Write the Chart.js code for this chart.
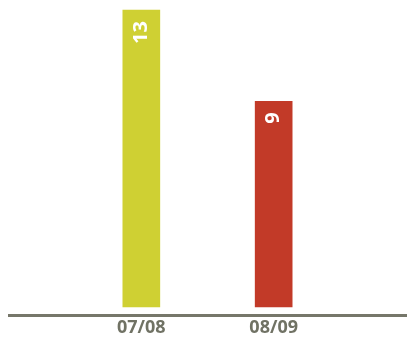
<!DOCTYPE html>
<html>
<head>
<meta charset="utf-8">
<script src="https://cdn.jsdelivr.net/npm/chart.js@4.4.0/dist/chart.umd.min.js"></script>
<style>
html,body{margin:0;padding:0;background:#fff;}
#wrap{width:408px;height:341px;position:relative;}
</style>
</head>
<body>
<div id="wrap"><canvas id="c" width="408" height="341"></canvas></div>
<script>
const categories = ['', '07/08', '08/09', ''];
const values = [null, 13, 9, null];
const valueLabels = ['', '13', '9', ''];
const barColors = ['#cfd033', '#cfd033', '#c23a28', '#c23a28'];

const labelPlugin = {
  id: 'rotLabels',
  afterDatasetsDraw(chart) {
    const ctx = chart.ctx;
    const meta = chart.getDatasetMeta(0);
    ctx.save();
    ctx.fillStyle = '#ffffff';
    ctx.font = 'bold 20px "Open Sans"';
    ctx.textAlign = 'right';
    ctx.textBaseline = 'middle';
    meta.data.forEach((el, i) => {
      if (values[i] == null) return;
      ctx.save();
      ctx.translate(el.x, el.y + 11);
      ctx.rotate(-Math.PI / 2);
      ctx.fillText(valueLabels[i], 0, 0);
      ctx.restore();
    });
    ctx.restore();
  }
};

new Chart(document.getElementById('c'), {
  type: 'bar',
  data: {
    labels: categories,
    datasets: [{
      data: values,
      backgroundColor: barColors,
      barThickness: 37,
      borderWidth: 0
    }]
  },
  options: {
    responsive: false,
    animation: false,
    layout: { padding: { left: 9, right: -9, top: 0, bottom: 0 } },
    plugins: { legend: { display: false }, tooltip: { enabled: false } },
    scales: {
      x: {
        offset: false,
        grid: { display: false, drawTicks: false },
        border: { display: true, color: '#76776a', width: 3 },
        ticks: {
          color: '#707264',
          font: { family: '"Open Sans"', size: 18, weight: 'bold' },
          padding: 2,
          maxRotation: 0,
          autoSkip: false
        }
      },
      y: {
        display: false,
        min: -0.37,
        max: 13.44
      }
    }
  },
  plugins: [labelPlugin]
});
</script>
</body>
</html>
